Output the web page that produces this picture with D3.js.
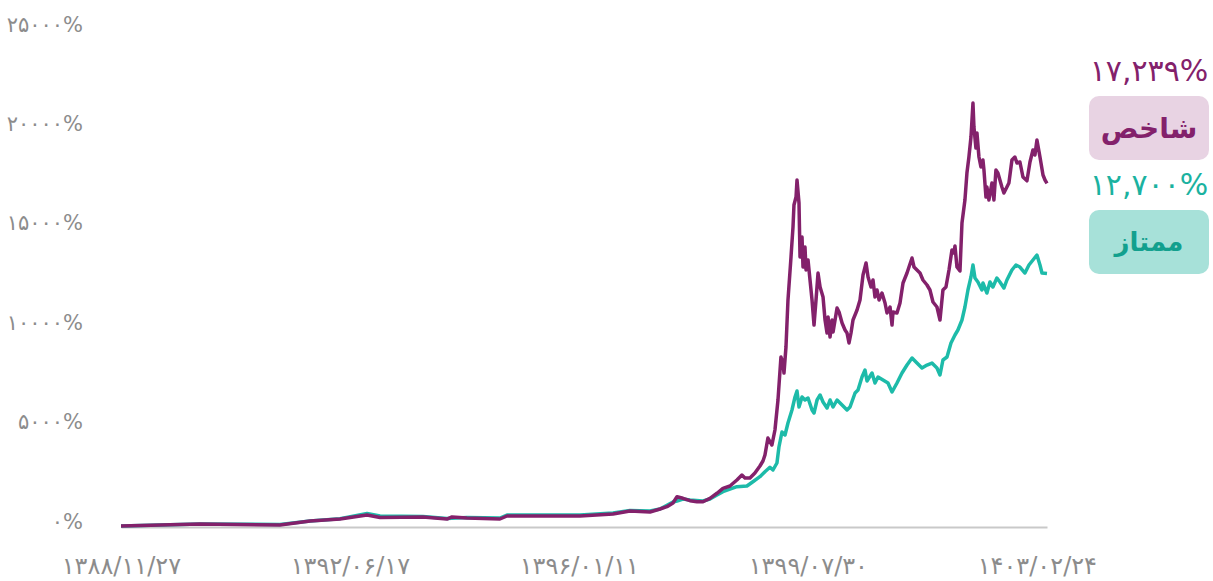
<!DOCTYPE html>
<html>
<head>
<meta charset="utf-8">
<script src="https://cdn.jsdelivr.net/npm/d3@7"></script>
<style>
  body { margin: 0; background: #fff; }
  svg { display: block; font-family: "DejaVu Sans", sans-serif; }
</style>
</head>
<body>
<svg class="chart" width="1213" height="581"></svg>
<script>
// cumulative return (%), x = decimal year
let shakhes = [[2010.128,0],[2011.356,101],[2012.599,50],[2013.066,252],[2013.532,352],[2013.952,553],[2014.154,428],[2014.822,453],[2015.195,352],[2015.273,453],[2015.506,402],[2016.019,352],[2016.128,503],[2016.532,503],[2017.262,503],[2017.775,604],[2018.039,755],[2018.350,704],[2018.506,855],[2018.614,971],[2018.708,1157],[2018.770,1474],[2018.863,1393],[2018.972,1272],[2019.081,1222],[2019.174,1222],[2019.283,1393],[2019.392,1645],[2019.485,1896],[2019.594,2012],[2019.702,2314],[2019.780,2565],[2019.827,2414],[2019.905,2414],[2019.982,2666],[2020.060,3018],[2020.107,3270],[2020.138,3571],[2020.184,4426],[2020.246,4074],[2020.293,4829],[2020.340,6338],[2020.386,8501],[2020.417,8199],[2020.433,7696],[2020.464,9004],[2020.495,11368],[2020.542,13531],[2020.573,15040],[2020.588,16146],[2020.620,16549],[2020.635,17404],[2020.666,16247],[2020.682,13531],[2020.713,14537],[2020.728,13028],[2020.759,14034],[2020.775,12877],[2020.806,13380],[2020.837,12374],[2020.868,11368],[2020.899,10110],[2020.930,11368],[2020.961,12726],[2020.993,12022],[2021.039,11519],[2021.070,10362],[2021.101,9708],[2021.117,10513],[2021.148,9507],[2021.179,10362],[2021.195,9758],[2021.257,10965],[2021.288,10764],[2021.335,10211],[2021.381,9859],[2021.412,9708],[2021.443,9205],[2021.474,9708],[2021.505,10362],[2021.568,10865],[2021.614,11368],[2021.661,12625],[2021.708,13229],[2021.739,12525],[2021.785,12022],[2021.816,12374],[2021.847,11519],[2021.879,11871],[2021.910,11368],[2021.956,11720],[2022.003,11217],[2022.034,10714],[2022.081,11016],[2022.112,10110],[2022.127,10764],[2022.189,10714],[2022.236,11217],[2022.283,12223],[2022.345,12726],[2022.376,13028],[2022.423,13480],[2022.454,13028],[2022.500,12877],[2022.547,12726],[2022.593,12374],[2022.656,12122],[2022.702,11871],[2022.749,11267],[2022.811,11016],[2022.858,10362],[2022.904,11871],[2022.951,12022],[2022.998,12877],[2023.044,13883],[2023.075,13732],[2023.091,14084],[2023.122,13028],[2023.169,12827],[2023.200,15241],[2023.246,16398],[2023.277,17756],[2023.308,18561],[2023.340,19567],[2023.371,21277],[2023.386,20070],[2023.417,19013],[2023.433,19768],[2023.464,18561],[2023.495,18058],[2023.526,18410],[2023.542,17907],[2023.573,16549],[2023.588,17052],[2023.619,16398],[2023.666,17253],[2023.697,16398],[2023.728,17907],[2023.759,17756],[2023.821,17052],[2023.852,16750],[2023.899,17052],[2023.930,17253],[2023.977,18410],[2024.023,18561],[2024.055,18259],[2024.101,18309],[2024.148,17555],[2024.210,17363],[2024.257,18309],[2024.303,18913],[2024.334,18661],[2024.365,19416],[2024.412,18561],[2024.459,17655],[2024.490,17404],[2024.521,17239]];

let momtaz = [[2010.128,0],[2011.356,101],[2012.599,75],[2013.066,252],[2013.532,370],[2013.952,629],[2014.154,503],[2014.822,478],[2015.195,377],[2015.506,428],[2016.019,402],[2016.128,553],[2016.532,553],[2017.262,553],[2017.775,654],[2018.039,780],[2018.350,755],[2018.506,855],[2018.708,1207],[2018.770,1258],[2018.863,1358],[2018.972,1308],[2019.174,1258],[2019.283,1358],[2019.392,1559],[2019.485,1725],[2019.702,1977],[2019.858,2012],[2019.951,2228],[2020.060,2480],[2020.138,2731],[2020.215,2953],[2020.262,2817],[2020.324,3169],[2020.355,3974],[2020.402,4728],[2020.449,4577],[2020.495,5181],[2020.557,5835],[2020.604,6489],[2020.635,6791],[2020.666,5986],[2020.713,6489],[2020.759,6338],[2020.806,6438],[2020.868,5835],[2020.899,5684],[2020.946,6338],[2020.993,6589],[2021.039,6237],[2021.101,5935],[2021.148,6338],[2021.195,5986],[2021.257,6338],[2021.335,6086],[2021.412,5835],[2021.459,5986],[2021.537,6690],[2021.583,6841],[2021.645,7495],[2021.692,7847],[2021.723,7294],[2021.801,7696],[2021.847,7193],[2021.894,7495],[2021.972,7344],[2022.049,7193],[2022.112,6740],[2022.189,7193],[2022.267,7696],[2022.345,8098],[2022.423,8450],[2022.500,8199],[2022.578,7947],[2022.656,8098],[2022.733,8199],[2022.811,7947],[2022.858,7595],[2022.904,8350],[2022.967,8501],[2023.029,9205],[2023.091,9607],[2023.137,9859],[2023.200,10362],[2023.246,11016],[2023.293,11871],[2023.340,12525],[2023.371,13128],[2023.402,12474],[2023.448,12273],[2023.510,11871],[2023.526,12223],[2023.588,11720],[2023.635,12273],[2023.681,12022],[2023.743,12474],[2023.790,12273],[2023.852,11971],[2023.899,12374],[2023.977,12877],[2024.039,13128],[2024.101,13028],[2024.179,12726],[2024.241,13128],[2024.303,13380],[2024.365,13631],[2024.412,13128],[2024.443,12726],[2024.521,12700]];

let yTicks = [0, 5000, 10000, 15000, 20000, 25000];
let yTickLabels = ["۰%", "۵۰۰۰%", "۱۰۰۰۰%", "۱۵۰۰۰%", "۲۰۰۰۰%", "۲۵۰۰۰%"];
let xTickDates = ["2010-02-16", "2013-09-08", "2017-03-31", "2020-10-21", "2024-05-13"];
let xTickLabels = ["۱۳۸۸/۱۱/۲۷", "۱۳۹۲/۰۶/۱۷", "۱۳۹۶/۰۱/۱۱", "۱۳۹۹/۰۷/۳۰", "۱۴۰۳/۰۲/۲۴"];
let seriesNames = ["شاخص", "ممتاز"];
let lastLabels = ["۱۷,۲۳۹%", "۱۲,۷۰۰%"];

let purple = "#83216b";
let teal = "#1dbba9";

function yearToDate(y) {
  let yr = Math.floor(y);
  let a = Date.UTC(yr, 0, 1), b = Date.UTC(yr + 1, 0, 1);
  return new Date(a + (y - yr) * (b - a));
}

let svg = d3.select(".chart");

let x = d3.scaleUtc()
  .domain([yearToDate(2010.128), yearToDate(2024.521)])
  .range([121, 1047]);
let y = d3.scaleLinear()
  .domain([0, 25000])
  .range([526, 29]);

// y axis labels
let yAxis = d3.axisLeft(y)
  .tickValues(yTicks)
  .tickSize(0)
  .tickFormat((d, i) => yTickLabels[i]);
let yGroup = svg.append("g").attr("transform", "translate(83,0)").call(yAxis);
yGroup.select(".domain").remove();
yGroup.selectAll("text")
  .attr("x", 0).attr("dy", "0.1em")
  .style("font-size", "21px")
  .style("fill", "#8c8c8c")
  .style("font-family", "DejaVu Sans");

// x axis
let xAxis = d3.axisBottom(x)
  .tickValues(xTickDates.map(d => new Date(d + "T00:00:00Z")))
  .tickSize(0)
  .tickFormat((d, i) => xTickLabels[i]);
let xGroup = svg.append("g").attr("transform", "translate(0," + (y(0) + 1) + ")").call(xAxis);
xGroup.select(".domain")
  .attr("stroke", "#c9c9c9").attr("stroke-width", 2);
xGroup.selectAll("text")
  .attr("y", 30)
  .style("font-size", "24px")
  .style("fill", "#8c8c8c")
  .style("font-family", "DejaVu Sans");

let line = d3.line()
  .x(d => x(yearToDate(d[0])))
  .y(d => y(d[1]));

svg.append("path").datum(momtaz)
  .attr("d", line).attr("fill", "none")
  .attr("stroke", teal).attr("stroke-width", 3.5)
  .attr("stroke-linejoin", "round");
svg.append("path").datum(shakhes)
  .attr("d", line).attr("fill", "none")
  .attr("stroke", purple).attr("stroke-width", 3.5)
  .attr("stroke-linejoin", "round");

// legend on the right
let legend = [
  {name: seriesNames[0], value: lastLabels[0], top: 96, color: purple, box: "#e8d3e3", text: "#83216b", size: 28},
  {name: seriesNames[1], value: lastLabels[1], top: 210, color: "#1ab2a0", box: "#a7e1d9", text: "#12a08e", size: 26}
];
let lg = svg.append("g");
legend.forEach(function(l) {
  lg.append("text")
    .attr("x", 1149).attr("y", l.top - 15)
    .attr("text-anchor", "middle")
    .style("font-size", "30px")
    .style("fill", l.color)
    .text(l.value);
  lg.append("rect")
    .attr("x", 1089).attr("y", l.top)
    .attr("width", 120).attr("height", 64)
    .attr("rx", 10)
    .attr("fill", l.box);
  lg.append("text")
    .attr("x", 1149).attr("y", l.top + 32)
    .attr("dy", "0.35em")
    .attr("text-anchor", "middle")
    .style("font-size", l.size + "px")
    .style("font-weight", "bold")
    .style("fill", l.text)
    .text(l.name);
});
</script>
</body>
</html>
